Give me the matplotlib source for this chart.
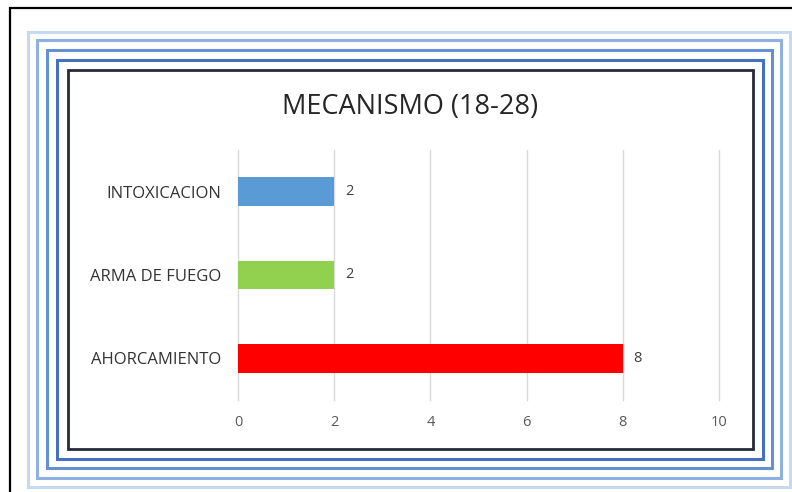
import matplotlib
matplotlib.use("Agg")
import matplotlib.pyplot as plt
from matplotlib.patches import Rectangle

# data
categories = ["AHORCAMIENTO", "ARMA DE FUEGO", "INTOXICACION"]
values = [8, 2, 2]
colors = ["#ff0000", "#92d050", "#5b9bd5"]
xticks = [0, 2, 4, 6, 8, 10]
title = "MECANISMO (18-28)"

W, H = 792, 492
plt.rcParams["font.family"] = ["Open Sans", "DejaVu Sans"]

fig = plt.figure(figsize=(W / 100, H / 100), dpi=100)


def px_rect(l, t, r, b, color, lw):
    # rectangle given in pixel coords (origin top-left)
    fig.patches.append(Rectangle((l / W, 1 - b / H), (r - l) / W, (b - t) / H,
                                 transform=fig.transFigure, fill=False,
                                 edgecolor=color, linewidth=lw))


# decorative frames
px_rect(10, 8, 800, 500, "#000000", 1.6)
px_rect(28, 32, 790, 487, "#c6d9f0", 2.2)
px_rect(37, 40, 781, 478, "#8eb0e2", 2.2)
px_rect(47, 50, 772, 468, "#6690d4", 2.2)
px_rect(57, 60, 763, 459, "#4470c2", 2.2)
px_rect(68, 70, 753, 449, "#262a3a", 2.0)

ax = fig.add_axes([238 / W, 1 - 400 / H, (719 - 238) / W, 250 / H])
y = range(len(categories))
ax.barh(y, values, height=0.34, color=colors, zorder=3)
for yi, v in zip(y, values):
    ax.text(v + 0.22, yi, str(v), va="center", ha="left", fontsize=10.5, color="#404040")

ax.set_xlim(0, 10)
ax.set_ylim(-0.5, 2.5)
ax.set_xticks(xticks)
ax.set_xticklabels([str(t) for t in xticks], fontsize=10.5, color="#595959")
ax.set_yticks(list(y))
ax.set_yticklabels(categories, fontsize=12, color="#333333")
ax.tick_params(length=0, pad=12)
ax.tick_params(axis="x", pad=11)
ax.grid(axis="x", color="#d9d9d9", linewidth=1, zorder=0)
for line in ax.get_xgridlines():
    line.set_clip_on(False)
for s in ax.spines.values():
    s.set_visible(False)

fig.text(410 / W, 1 - 107 / H, title, ha="center", va="center", fontsize=19.5, color="#262626")

fig.savefig("out.png", dpi=100)
